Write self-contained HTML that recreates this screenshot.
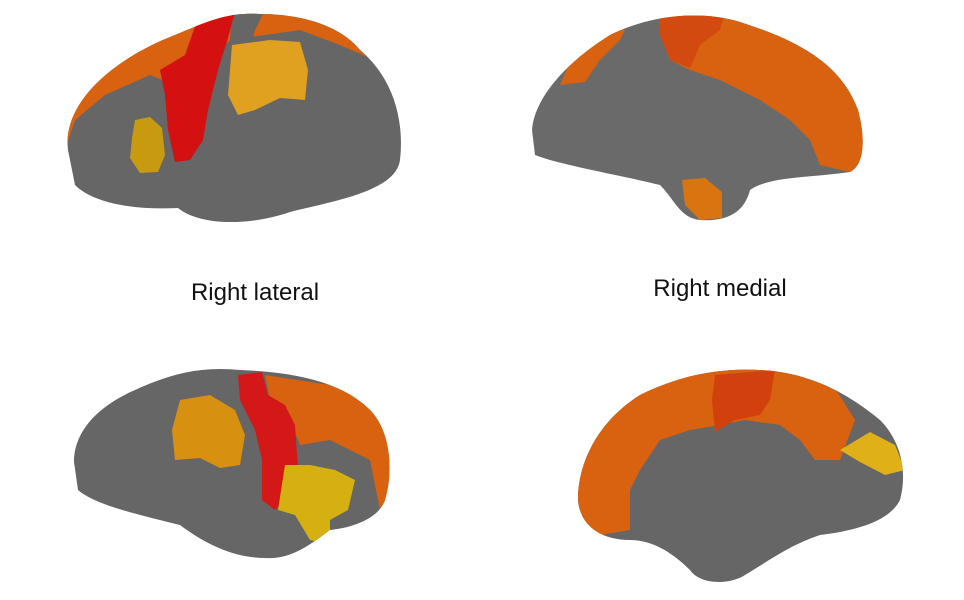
<!DOCTYPE html>
<html><head><meta charset="utf-8"><style>
html,body{margin:0;padding:0;background:#fff;}
body{width:964px;height:600px;position:relative;overflow:hidden;font-family:"Liberation Sans","DejaVu Sans",sans-serif;}
svg{position:absolute;left:0;top:0;}
</style></head><body>
<svg width="964" height="600" viewBox="0 0 964 600" xmlns="http://www.w3.org/2000/svg">
<defs>
<clipPath id="b1"><path d="M68,150 C62,105 110,60 175,35 C210,20 230,12 260,14 C300,14 340,25 360,50 C390,75 405,115 400,160 C396,190 340,200 290,212 C250,226 200,226 178,208 C140,210 95,205 75,185 Z"/></clipPath>
<clipPath id="b2"><path d="M532,130 C535,95 570,60 610,35 C650,15 700,10 740,22 C790,38 840,60 858,110 C866,140 864,165 850,172 C810,178 770,176 750,190 C745,210 730,222 700,220 C680,218 675,200 660,185 C620,175 560,165 535,155 Z"/></clipPath>
<clipPath id="b3"><path d="M74,462 C74,430 100,405 135,390 C170,374 200,366 240,370 C290,372 340,380 370,410 C390,430 394,470 385,500 C378,520 350,528 330,530 C310,545 290,560 265,558 C230,558 200,540 180,525 C140,515 95,505 78,490 Z"/></clipPath>
<clipPath id="b4"><path d="M578,500 C578,460 600,420 640,395 C680,375 720,368 760,370 C810,372 850,395 880,420 C900,440 908,470 900,500 C890,520 860,530 820,535 C790,545 770,560 745,575 C730,585 700,585 690,570 C670,550 650,540 630,540 C600,540 580,525 578,500 Z"/></clipPath>
</defs>

<!-- Brain 1 -->
<g clip-path="url(#b1)">
<rect x="60" y="0" width="350" height="240" fill="#666"/>
<path d="M60,165 L75,120 L105,95 L150,75 L175,85 L200,70 L230,40 L300,30 L340,45 L370,58 L400,85 L410,0 L60,0 Z" fill="#d8620f"/>
<path d="M232,10 L265,10 L255,30 L250,50 L240,60 L230,40 Z" fill="#666"/>
<path d="M200,12 L235,12 L228,38 L218,70 L208,110 L203,140 L190,160 L175,162 L168,130 L165,95 L160,70 L185,55 Z" fill="#d41010"/>
<path d="M232,45 L270,40 L300,42 L308,70 L305,100 L280,98 L255,110 L238,115 L228,95 Z" fill="#e0a020"/>
<path d="M135,120 L150,117 L162,128 L165,155 L158,172 L140,173 L130,158 L132,138 Z" fill="#c89a10"/>
</g>

<!-- Brain 2 -->
<g clip-path="url(#b2)">
<rect x="520" y="0" width="360" height="240" fill="#6a6a6a"/>
<path d="M560,85 L575,50 L600,30 L625,30 L620,40 L600,60 L585,82 Z" fill="#d8620f"/>
<path d="M660,12 L730,12 L790,30 L850,60 L870,100 L870,175 L850,172 L820,165 L810,140 L790,120 L760,100 L720,80 L690,70 L670,60 L660,35 Z" fill="#d8620f"/>
<path d="M660,12 L725,12 L720,30 L700,45 L690,68 L670,60 L660,35 Z" fill="#d24a10"/>
<path d="M682,180 L705,178 L722,192 L722,218 L700,220 L685,205 Z" fill="#d8750f"/>
</g>

<!-- Brain 3 -->
<g clip-path="url(#b3)">
<rect x="60" y="360" width="350" height="220" fill="#666"/>
<path d="M265,375 L330,385 L365,400 L390,430 L395,510 L380,510 L370,460 L350,450 L330,440 L300,445 L290,420 L270,400 Z" fill="#d8620f"/>
<path d="M238,375 L262,372 L268,395 L285,405 L295,425 L298,470 L290,495 L275,510 L262,500 L262,460 L255,430 L240,400 Z" fill="#d41818"/>
<path d="M180,400 L210,395 L235,410 L245,435 L240,465 L220,468 L200,458 L175,460 L172,430 Z" fill="#d89010"/>
<path d="M285,465 L310,465 L335,470 L355,480 L348,510 L330,520 L330,545 L310,540 L295,515 L278,510 Z" fill="#d4b010"/>
</g>

<!-- Brain 4 -->
<g clip-path="url(#b4)">
<rect x="570" y="360" width="345" height="230" fill="#666"/>
<path d="M570,540 L630,530 L630,490 L640,470 L660,440 L690,430 L720,425 L745,420 L780,425 L800,440 L815,460 L840,460 L855,420 L830,380 L780,365 L700,365 L640,385 L590,430 L570,480 Z" fill="#d8620f"/>
<path d="M715,375 L775,370 L770,400 L760,415 L735,420 L715,432 L712,400 Z" fill="#d2400e"/>
<path d="M840,450 L870,432 L895,445 L905,470 L885,475 L860,462 Z" fill="#e0b018"/>
</g>

<text x="255" y="300" font-size="24" fill="#111" text-anchor="middle">Right lateral</text>
<text x="720" y="296" font-size="24" fill="#111" text-anchor="middle">Right medial</text>
</svg>
</body></html>
